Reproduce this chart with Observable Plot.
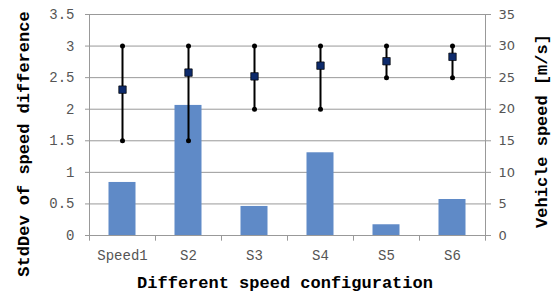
<!DOCTYPE html>
<html><head><meta charset="utf-8">
<script src="https://cdn.jsdelivr.net/npm/d3@7"></script>
<script src="https://cdn.jsdelivr.net/npm/@observablehq/plot@0.6"></script>
<style>
body{margin:0;background:#fff;}
#chart{position:relative;width:555px;height:297px;}
.ttl{position:absolute;font-family:"Liberation Mono",monospace;font-weight:bold;font-size:17px;color:#000;white-space:nowrap;}
</style></head>
<body><div id="chart"></div>
<script>
const categories = ["Speed1","S2","S3","S4","S5","S6"];
const stdDev = [0.84, 2.06, 0.46, 1.31, 0.17, 0.57];
const speedMean = [23.1, 25.8, 25.2, 26.9, 27.6, 28.3];
const speedMin = [15, 15, 20, 20, 25, 25];
const speedMax = [30, 30, 30, 30, 30, 30];
const leftTicks = [0,0.5,1,1.5,2,2.5,3,3.5];
const rightTicks = [0,5,10,15,20,25,30,35];

const bars = categories.map((c,i)=>({c, v: stdDev[i]}));
const speeds = categories.map((c,i)=>({c, mean: speedMean[i], lo: speedMin[i], hi: speedMax[i]}));
const k = 3.5/35; // right axis mapped onto left scale

const plot = Plot.plot({
  width: 555, height: 297,
  marginLeft: 89, marginRight: 70, marginTop: 14, marginBottom: 62,
  x: {type: "band", domain: categories, padding: 0},
  y: {domain: [0, 3.5]},
  style: {fontFamily: "Liberation Mono, monospace", fontSize: "14px", color: "#555", background: "#fff"},
  marks: [
    Plot.gridY(leftTicks, {stroke: "#999", strokeOpacity: 1}),
    Plot.axisY(leftTicks, {anchor: "left", tickSize: 4, tickPadding: 11, stroke: "#999", label: null, tickFormat: d => String(d), fill: "#555", fontSize: 14}),
    Plot.axisY(rightTicks.map(t => t*k), {anchor: "right", tickSize: 5, tickPadding: 8, stroke: "#999", label: null, tickFormat: d => String(Math.round(d/k)), fill: "#555", fontFamily: "DejaVu Sans, sans-serif", fontSize: 13}),
    Plot.axisX({anchor: "bottom", tickSize: 0, tickPadding: 15, label: null, fill: "#555", fontSize: 14}),
    Plot.ruleX([categories[0]], {x: d => d, dx: -33, stroke: "#999"}),
    Plot.ruleX([categories[categories.length-1]], {x: d => d, dx: 33, stroke: "#999"}),
    Plot.ruleX(categories, {x: d => d, dx: -33, y1: 0, y2: -0.09, stroke: "#999"}),
    Plot.ruleX([categories[categories.length-1]], {x: d => d, dx: 33, y1: 0, y2: -0.09, stroke: "#999"}),
    Plot.barY(bars, {x: "c", y: "v", fill: "#5f8ac7", insetLeft: 19.5, insetRight: 19.5}),
    Plot.ruleY([0], {stroke: "#999"}),
    Plot.ruleX(speeds, {x: "c", y1: d => d.lo*k, y2: d => d.hi*k, stroke: "#000", strokeWidth: 2}),
    Plot.dot(speeds, {x: "c", y: d => d.lo*k, r: 2.5, fill: "#000"}),
    Plot.dot(speeds, {x: "c", y: d => d.hi*k, r: 2.5, fill: "#000"}),
    Plot.dot(speeds, {x: "c", y: d => d.mean*k, symbol: "square", r: 4.2, fill: "#0d2a6b", stroke: "#000", strokeWidth: 0.7})
  ]
});
const el = document.getElementById("chart");
el.appendChild(plot);
function addTitle(text, left, top, rot){
  const d = document.createElement("div");
  d.className = "ttl"; d.textContent = text;
  d.style.left = left + "px"; d.style.top = top + "px";
  d.style.transform = "translate(-50%,-50%)" + (rot ? " rotate(-90deg)" : "");
  el.appendChild(d);
}
addTitle("Different speed configuration", 285, 283, false);
addTitle("StdDev of speed difference", 24, 144, true);
addTitle("Vehicle speed [m/s]", 542, 131, true);
</script></body></html>
